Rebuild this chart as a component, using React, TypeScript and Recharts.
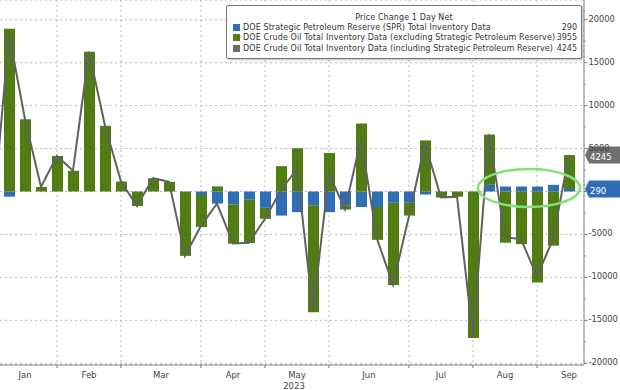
import React from 'react';
import {
  ComposedChart,
  Bar,
  Line,
  XAxis,
  YAxis,
  CartesianGrid,
  ReferenceLine,
} from 'recharts';

// weekly reports, first one sits just left of the visible area
const weeks = [
  '2022-12-30', '2023-01-06', '2023-01-13', '2023-01-20', '2023-01-27',
  '2023-02-03', '2023-02-10', '2023-02-17', '2023-02-24', '2023-03-03',
  '2023-03-10', '2023-03-17', '2023-03-24', '2023-03-31', '2023-04-07',
  '2023-04-14', '2023-04-21', '2023-04-28', '2023-05-05', '2023-05-12',
  '2023-05-19', '2023-05-26', '2023-06-02', '2023-06-09', '2023-06-16',
  '2023-06-23', '2023-06-30', '2023-07-07', '2023-07-14', '2023-07-21',
  '2023-07-28', '2023-08-04', '2023-08-11', '2023-08-18', '2023-08-25',
  '2023-09-01', '2023-09-08',
];

const sprChange = [
  -300, -600, 0, 0, 0, 0, 0, 0, 0, 0, 0, 0, 0, -400, -1400, -1500, -950, -1900,
  -2800, -2400, -1600, -2400, -1650, -1800, -1800, -1300, -1300, -350, 0, 0, 0,
  780, 580, 580, 580, 780, 290,
];

const crudeExSpr = [
  -2600, 18960, 8410, 530, 4140, 2420, 16280, 7650, 1170, -1690, 1550, 1120,
  -7490, -3740, 600, -4580, -5050, -1280, 2950, 5040, -12460, 4490, -450, 7920,
  -3830, -9600, -1500, 5950, -700, -600, -17050, 5850, -5960, -6130, -10580,
  -6310, 3955,
];

const crudeTotal = [
  -2900, 18340, 8410, 530, 4140, 2420, 16280, 7650, 1170, -1690, 1550, 1120,
  -7490, -4000, -1400, -6050, -5970, -3180, 150, 2650, -13950, 2100, -2090, 6100,
  -5500, -10850, -2850, 5600, -700, -600, -16950, 6650, -5300, -5550, -9900,
  -5530, 4245,
];

const monthStarts = [
  '2022-12-30', '2023-01-27', '2023-02-24', '2023-03-31', '2023-04-28',
  '2023-05-26', '2023-06-30', '2023-07-28', '2023-08-25',
];
const monthNames = ['Jan', 'Feb', 'Mar', 'Apr', 'May', 'Jun', 'Jul', 'Aug', 'Sep'];

const yTicks = [-20000, -15000, -10000, -5000, 0, 5000, 10000, 15000, 20000];

const BLUE = '#2f6db5';
const GREEN = '#4f7d12';
const GRAY = '#616161';
const FONT = 'DejaVu Sans, Verdana, sans-serif';

const BAND = 16;
const PLOT_H = 365;
const Y_MIN = -20200;
const Y_MAX = 22300;

const data = weeks.map((week, i) => ({
  week,
  spr: sprChange[i],
  crude: crudeExSpr[i],
  total: crudeTotal[i],
}));

const last = weeks.length - 1;

function MonthTick(props: any) {
  const { x, y, payload } = props;
  const i = monthStarts.indexOf(payload.value);
  const start = weeks.indexOf(payload.value);
  const next =
    i + 1 < monthStarts.length ? weeks.indexOf(monthStarts[i + 1]) : start + 4;
  const lx = x + ((next - start) * BAND) / 2;
  return (
    <g>
      <line x1={x} y1={y} x2={x} y2={y + 3} stroke="#777" />
      <text x={lx} y={y + 13} textAnchor="middle" fontSize={8.5} fontFamily={FONT} fill="#444">
        {monthNames[i]}
      </text>
      {monthNames[i] === 'May' && (
        <text x={lx - 3} y={y + 23.5} textAnchor="middle" fontSize={8.5} fontFamily={FONT} fill="#444">
          2023
        </text>
      )}
    </g>
  );
}

function ValueTick(props: any) {
  const { x, y, payload } = props;
  const half = (2500 / (Y_MAX - Y_MIN)) * PLOT_H;
  return (
    <g>
      <line x1={x} y1={y} x2={x + 3.5} y2={y} stroke="#777" />
      {payload.value !== yTicks[0] && (
        <line x1={x} y1={y + half} x2={x + 2} y2={y + half} stroke="#999" />
      )}
      {/* the zero label sits under the SPR value tag */}
      {payload.value !== 0 && (
        <text x={x + 4.5} y={y + 2} fontSize={8.3} fontFamily={FONT} fill="#444">
          {payload.value}
        </text>
      )}
    </g>
  );
}

function ValueTag(props: any) {
  const { viewBox, text, fill } = props;
  const x0 = viewBox.x + viewBox.width + 1;
  const y = viewBox.y;
  const pts = `${x0},${y} ${x0 + 4},${y - 8.5} ${x0 + 40},${y - 8.5} ${x0 + 40},${y + 8.5} ${x0 + 4},${y + 8.5}`;
  return (
    <g>
      <polygon points={pts} fill={fill} />
      <text x={x0 + 5} y={y + 4.5} fontSize={8.5} fontFamily={FONT} fill="#fff">
        {text}
      </text>
    </g>
  );
}

const legendRows = [
  { color: BLUE, name: 'DOE Strategic Petroleum Reserve (SPR) Total Inventory Data', value: sprChange[last] },
  { color: GREEN, name: 'DOE Crude Oil Total Inventory Data (excluding Strategic Petroleum Reserve)', value: crudeExSpr[last] },
  { color: '#6a6a6a', name: 'DOE Crude Oil Total Inventory Data (including Strategic Petroleum Reserve)', value: crudeTotal[last] },
];

export default function App() {
  return (
    <div
      style={{
        position: 'absolute',
        left: 0,
        top: 0,
        width: 620,
        height: 390,
        overflow: 'hidden',
        background: '#fff',
      }}
    >
      <div style={{ marginLeft: -BAND }}>
        <ComposedChart
          width={636}
          height={390}
          data={data}
          stackOffset="sign"
          margin={{ top: 0, right: 0, bottom: 0, left: 1 }}
          barCategoryGap={0}
        >
          <CartesianGrid stroke="#b8b8b8" strokeDasharray="2 3" />
          <XAxis
            dataKey="week"
            ticks={monthStarts}
            interval={0}
            tick={<MonthTick />}
            tickLine={false}
            tickSize={0}
            tickMargin={0}
            height={25}
            padding={{ left: 0, right: 7 }}
            axisLine={{ stroke: '#888' }}
          />
          <YAxis
            orientation="right"
            width={36}
            domain={[Y_MIN, Y_MAX]}
            ticks={yTicks}
            interval={0}
            tick={<ValueTick />}
            tickLine={false}
            tickSize={0}
            tickMargin={0}
            allowDataOverflow
            axisLine={{ stroke: '#888' }}
          />
          <Bar dataKey="spr" stackId="a" fill={BLUE} barSize={11} isAnimationActive={false} />
          <Bar dataKey="crude" stackId="a" fill={GREEN} barSize={11} isAnimationActive={false} />
          <Line
            dataKey="total"
            type="linear"
            stroke={GRAY}
            strokeWidth={2}
            dot={false}
            isAnimationActive={false}
          />
          <ReferenceLine
            y={crudeTotal[last]}
            stroke="none"
            label={<ValueTag text={String(crudeTotal[last])} fill="#707070" />}
          />
          <ReferenceLine
            y={sprChange[last]}
            stroke="none"
            label={<ValueTag text={String(sprChange[last])} fill={BLUE} />}
          />
        </ComposedChart>
      </div>

      <svg
        width={620}
        height={390}
        style={{ position: 'absolute', left: 0, top: 0, pointerEvents: 'none' }}
      >
        <ellipse cx={529} cy={188} rx={51} ry={19} fill="none" stroke="#86e07a" strokeWidth={2.5} />
      </svg>

      <div
        style={{
          position: 'absolute',
          left: 226,
          top: 5,
          width: 354,
          height: 52,
          border: '1px solid #777',
          borderRadius: 2,
          background: '#fff',
          boxShadow: '1px 1px 2px rgba(0,0,0,0.25)',
          fontFamily: FONT,
          fontSize: 8,
          letterSpacing: 0.1,
          color: '#333',
        }}
      >
        <div style={{ position: 'absolute', left: 0, right: 0, top: 7, textAlign: 'center', lineHeight: '10px' }}>
          Price Change 1 Day Net
        </div>
        {legendRows.map((r, i) => (
          <div
            key={r.name}
            style={{ position: 'absolute', left: 6, right: 4, top: 16.5 + i * 10.8, lineHeight: '10px', whiteSpace: 'nowrap' }}
          >
            <span
              style={{ display: 'inline-block', width: 7, height: 7, background: r.color, marginRight: 3, verticalAlign: -1 }}
            />
            {r.name}
            <span style={{ position: 'absolute', right: 0, letterSpacing: 0 }}>{r.value}</span>
          </div>
        ))}
      </div>
    </div>
  );
}
